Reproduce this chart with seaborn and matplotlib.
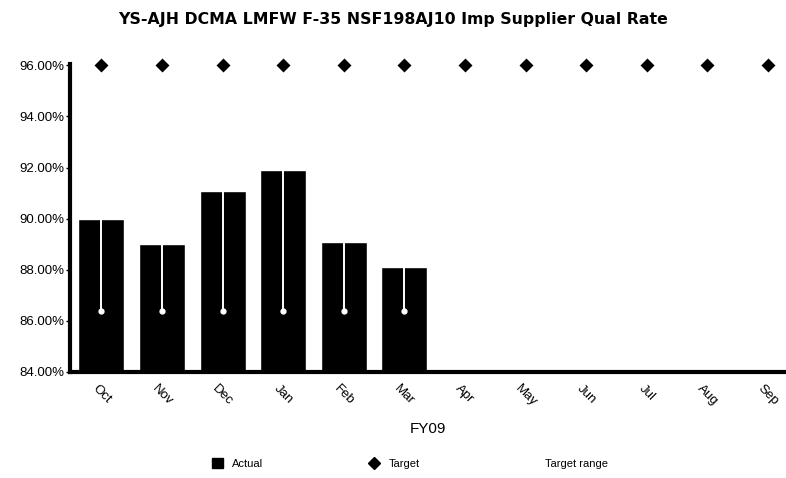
import numpy as np
import pandas as pd
import matplotlib
matplotlib.use("Agg")
import matplotlib.pyplot as plt
from matplotlib.lines import Line2D
from matplotlib.patches import Patch
import seaborn as sns

months = ["Oct", "Nov", "Dec", "Jan", "Feb", "Mar", "Apr", "May", "Jun", "Jul", "Aug", "Sep"]
actual = [90.0, 89.0, 91.1, 91.9, 89.1, 88.1, np.nan, np.nan, np.nan, np.nan, np.nan, np.nan]
target = [96.0] * 12
range_low = [86.4] * 12
range_high = [96.0] * 12
yticks = [84, 86, 88, 90, 92, 94, 96]
title = "YS-AJH DCMA LMFW F-35 NSF198AJ10 Imp Supplier Qual Rate"

df = pd.DataFrame({"Month": months, "Actual": actual, "Target": target,
                   "Low": range_low, "High": range_high})

sns.set_theme(style="white")
plt.rcParams["font.family"] = ["Liberation Sans", "DejaVu Sans"]
plt.rcParams["text.color"] = "black"
plt.rcParams["xtick.color"] = "black"
plt.rcParams["ytick.color"] = "black"
plt.rcParams["axes.labelcolor"] = "black"

fig = plt.figure(figsize=(7.86, 4.78), dpi=100)
ax = fig.add_axes([0.089, 0.222, 0.911, 0.644])

sns.barplot(data=df, x="Month", y="Actual", order=months, color="black",
            saturation=1, width=0.76, ax=ax, zorder=2)
pos = np.arange(len(months))
ax.vlines(pos, df["Low"], df["High"], color="white", linewidth=1.4, zorder=3)
ax.plot(pos, df["Low"], linestyle="none", marker="o", markersize=3.5,
        color="white", zorder=3)
sns.pointplot(data=df, x="Month", y="Target", order=months, color="black",
              markers="D", linestyles="none", ax=ax, zorder=5)
for l in ax.lines:
    if l.get_marker() == "D":
        l.set_markersize(5.5)
        l.set_zorder(5)
        l.set_clip_on(False)

ax.set_ylim(84, 96.05)
ax.set_xlim(-0.52, 11.3)
ax.set_yticks(yticks)
ax.set_yticklabels([f"{v:.2f}%" for v in yticks], fontsize=9.5)
ax.set_xticks(pos)
ax.set_xticklabels(months, rotation=-45, ha="center", fontsize=9.5)
ax.tick_params(axis="x", length=0, pad=8)
ax.tick_params(axis="y", length=3, width=1, direction="out", color="black", pad=1, left=True)
ax.set_ylabel("")
ax.set_xlabel("FY09", fontsize=11, labelpad=9)
for s in ["top", "right"]:
    ax.spines[s].set_visible(False)
for s in ["left", "bottom"]:
    ax.spines[s].set_color("black")
    ax.spines[s].set_linewidth(3)
ax.grid(False)

fig.suptitle(title, x=0.5, y=0.975, fontsize=11.3, fontweight="bold",
             family=["DejaVu Sans"], color="black")

handles = [
    Patch(facecolor="black", edgecolor="black", label="Actual"),
    Line2D([], [], marker="D", color="black", linestyle="none", markersize=6, label="Target"),
    Line2D([], [], color="white", linewidth=2, label="Target range"),
]
fig.legend(handles=handles, loc="center", bbox_to_anchor=(0.522, 0.03), ncol=3,
           frameon=False, fontsize=8, handlelength=1.0, handleheight=1.0,
           columnspacing=9.5, handletextpad=0.8)

fig.savefig("out.png", dpi=100)
